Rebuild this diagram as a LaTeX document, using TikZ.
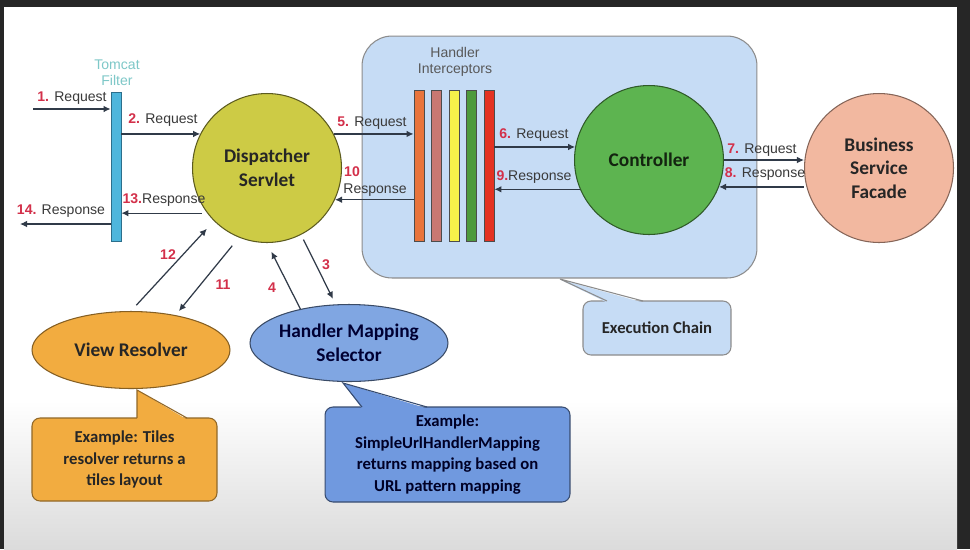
\documentclass[tikz,border=0pt]{standalone}
\usepackage{fontspec}
\setmainfont{Liberation Sans}
\newfontfamily\calib{Carlito}
\usetikzlibrary{arrows.meta,shapes.geometric}
\definecolor{numred}{HTML}{D3304A}
\definecolor{labelgray}{HTML}{3A3A3A}
\definecolor{linegray}{HTML}{303A48}
\definecolor{chainblue}{HTML}{C6DCF5}
\definecolor{dsyellow}{HTML}{CDCB45}
\definecolor{ctrlgreen}{HTML}{5DB450}
\definecolor{bsfpink}{HTML}{F2B8A0}
\definecolor{vrorange}{HTML}{F2AC40}
\definecolor{hmblue}{HTML}{80A6E2}
\definecolor{exblue}{HTML}{7099DF}
\begin{document}
\begin{tikzpicture}[x=0.02cm,y=-0.02cm,>={Latex[length=4pt,width=3.8pt]},
  lbl/.style={font=\fontsize{8}{9.5}\selectfont,text=labelgray,inner sep=0pt},
  num/.style={font=\fontsize{8}{9.5}\selectfont\bfseries,text=numred,inner sep=0pt},
  flow/.style={draw=linegray,line width=0.7pt,->},
  actor/.style={circle,minimum size=2.98cm,inner sep=0pt,line width=0.6pt,align=center,font=\calib\bfseries\fontsize{11}{13.5}\selectfont},
  oval/.style={ellipse,minimum width=3.96cm,minimum height=1.54cm,inner sep=0pt,line width=0.6pt,align=center,font=\calib\bfseries\fontsize{11}{13.5}\selectfont},
  note/.style={rounded corners=0.16cm,inner sep=0pt,line width=0.6pt,align=center,font=\calib\bfseries\fontsize{9.5}{12.2}\selectfont},
  bar/.style={minimum width=0.2cm,minimum height=3.02cm,inner sep=0pt,draw=black!70,line width=0.5pt}]
\useasboundingbox (0,0) rectangle (970,549);
\fill[black!85] (0,0) rectangle (970,549);
\fill[white] (4,7) rectangle (957,400);
\shade[top color=white,bottom color=black!14] (4,400) rectangle (957,549);

\node[bar,fill={rgb,255:red,78;green,182;blue,220},draw={rgb,255:red,44;green,111;blue,140},minimum height=2.98cm] (filter) at (116,166.5) {};
\node[lbl,text={rgb,255:red,126;green,200;blue,200},align=center,font=\fontsize{8}{9.3}\selectfont] (filterlbl) at (117,73) {Tomcat\\Filter};

\node[actor,draw=black!55!dsyellow,fill=dsyellow,text=black!85] (ds) at (267,168) {Dispatcher\\Servlet};

\node[draw=black!45,fill=chainblue,rounded corners=0.6cm,minimum width=7.9cm,minimum height=4.84cm,line width=0.6pt] (chain) at (559.5,157) {};
\node[lbl,text=black!65,align=center,font=\fontsize{8}{9.3}\selectfont] (iclbl) at (455,62) {Handler\\Interceptors};
\foreach \n/\x/\c in {ic1/419/E8743C,ic2/436.5/C87872,ic3/454/F6F24A,ic4/471.5/4E9A3C,ic5/489/E43222}{
  \definecolor{barfill}{HTML}{\c}
  \node[bar,fill=barfill] (\n) at (\x,165.5) {};
}
\node[actor,draw=black!50!ctrlgreen,fill=ctrlgreen,text=black!80!ctrlgreen] (ctrl) at (649,160) {Controller};
\node[actor,draw=black!45!bsfpink,fill=bsfpink,text=black!85] (bsf) at (879,168) {Business\\Service\\Facade};

\node[oval,draw=black!45!vrorange,fill=vrorange,text=black!85] (vr) at (131,350) {View Resolver};
\node[oval,draw=black!55!hmblue,fill=hmblue,text=black!80!blue] (hm) at (349,343) {Handler Mapping\\Selector};

\node[note,draw=black!40!vrorange,fill=vrorange,minimum width=3.7cm,minimum height=1.66cm,text=black!85] (exvr) at (124.5,459.5) {Example: Tiles\\resolver returns a\\tiles layout};
\fill[vrorange] (137,390) -- (137,419.5) -- (187,419.5) -- cycle;
\draw[black!40!vrorange,line width=0.6pt] (137,418) -- (137,390) -- (187,418);
\node[note,draw=black!50!exblue,fill=exblue,minimum width=4.9cm,minimum height=1.9cm,text=black!85!blue] (exhm) at (447.5,454.5) {Example:\\SimpleUrlHandlerMapping\\returns mapping based on\\URL pattern mapping};
\fill[exblue] (343,383) -- (362,408.5) -- (427,408.5) -- cycle;
\draw[black!50!exblue,line width=0.6pt] (362,407) -- (343,383) -- (427,407);
\node[note,draw=black!45,fill=chainblue,minimum width=2.96cm,minimum height=1.08cm,text=black!85] (exch) at (657,328) {Execution Chain};
\fill[chainblue] (560,279.5) -- (607,302.5) -- (643,302.5) -- cycle;
\draw[black!45,line width=0.6pt] (607,301) -- (560,279) -- (643,301);

\coordinate (in1) at (33,109);
\coordinate (out14) at (20,224);
\draw[flow] (in1) -- (in1 -| filter.west);
\draw[flow] (ds.153 -| filter.east) -- (ds.153);
\draw[flow,shorten <=3pt] (ds.217) -- (ds.217 -| filter.east);
\draw[flow] (out14 -| filter.west) -- (out14);
\draw[flow] (ds.27) -- (ds.27 -| ic1.west);
\draw[flow] (ds.335 -| ic1.west) -- (ds.335);
\draw[flow] (ctrl.170 -| ic5.east) -- (ctrl.170);
\draw[flow] (ctrl.203) -- (ctrl.203 -| ic5.east);
\draw[flow] (ctrl.east) -- (ctrl.east -| bsf.west);
\draw[flow] (ctrl.339 -| bsf.west) -- (ctrl.339);
\draw[flow,shorten <=4.5pt,shorten >=6pt] (vr.north) -- (ds.225);
\draw[flow,shorten <=6pt,shorten >=3pt] (ds.248) -- (vr.38);
\draw[flow,shorten >=5.5pt] (hm.145) -- (ds.south);
\draw[flow,shorten <=3pt,shorten >=3.5pt] (ds.297) -- (hm.109);

\node[lbl] (l1) at (72,98) {\textcolor{numred}{\bfseries 1.} Request};
\node[lbl] (l2) at (163,120) {\textcolor{numred}{\bfseries 2.} Request};
\node[lbl] (l13) at (164,200) {\textcolor{numred}{\bfseries 13.}Response};
\node[lbl] (l14) at (61,211) {\textcolor{numred}{\bfseries 14.} Response};
\node[lbl] (l5) at (372,123) {\textcolor{numred}{\bfseries 5.} Request};
\node[num] (n10) at (352,172) {10};
\node[lbl] (l10) at (375,190) {Response};
\node[lbl] (l6) at (534,135) {\textcolor{numred}{\bfseries 6.} Request};
\node[lbl] (l9) at (534,177) {\textcolor{numred}{\bfseries 9.}Response};
\node[lbl] (l7) at (762,150) {\textcolor{numred}{\bfseries 7.} Request};
\node[lbl] (l8) at (765,174) {\textcolor{numred}{\bfseries 8.} Response};
\node[num] (n12) at (168,255) {12};
\node[num] (n11) at (223,285) {11};
\node[num] (n4) at (272,288) {4};
\node[num] (n3) at (326,265) {3};
\end{tikzpicture}
\end{document}
